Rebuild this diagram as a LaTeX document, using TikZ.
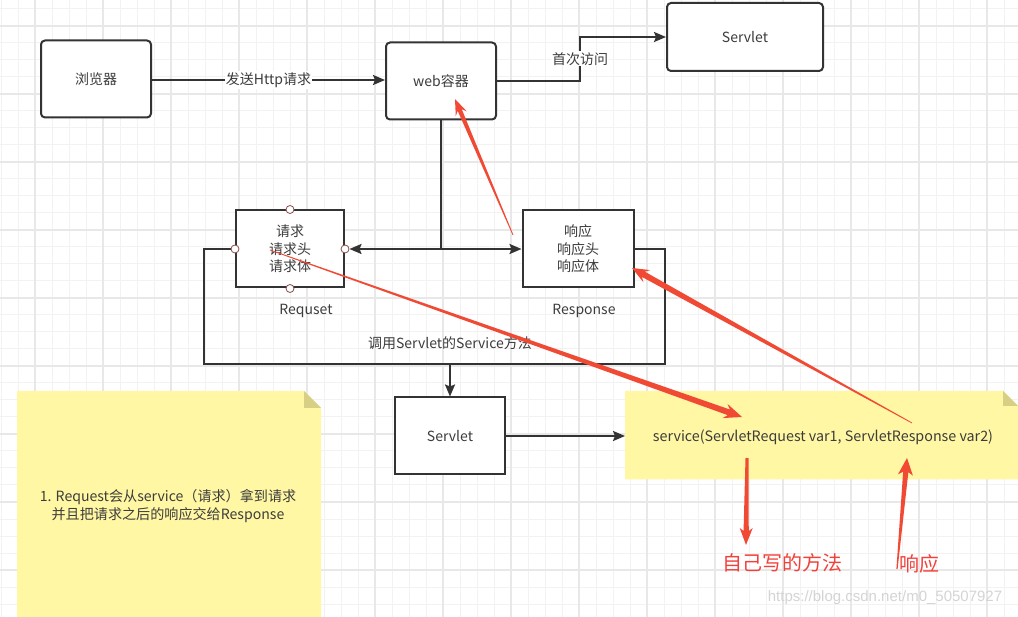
\documentclass[tikz,border=0pt]{standalone}
\usepackage{fontspec}
\setmainfont{Noto Sans CJK SC}
\newfontfamily\wmfont{Liberation Sans}
\usetikzlibrary{calc,arrows.meta}
\definecolor{boxline}{HTML}{333333}
\definecolor{txt}{HTML}{3C3C3C}
\definecolor{gridminor}{HTML}{F2F2F2}
\definecolor{gridmajor}{HTML}{E8E8E8}
\definecolor{notey}{HTML}{FFF7A3}
\definecolor{notefold}{HTML}{D6CF84}
\definecolor{redc}{HTML}{F04A35}
\definecolor{redtxt}{HTML}{F2403A}
\definecolor{wm}{HTML}{D4D4D4}
\definecolor{pinr}{HTML}{8A4A4A}
% tail, tip, tail half width, shaft half width, junction dist, wing dist, head half width
\newcommand\redarrow[7]{%
  \path ($(#2)!#5!(#1)$) coordinate (rh) ($(#2)!#6!(#1)$) coordinate (rw);
  \fill[redc] ($(#1)!#3!90:(#2)$) -- ($(rh)!#4!90:(#2)$) -- ($(rw)!#7!90:(#2)$) -- (#2)
    -- ($(rw)!#7!-90:(#2)$) -- ($(rh)!#4!-90:(#2)$) -- ($(#1)!#3!-90:(#2)$) -- cycle;
}
\begin{document}
\begin{tikzpicture}[x=1pt,y=-1pt,
  font=\fontsize{14}{17.5}\selectfont, text=txt,
  rbox/.style={draw=boxline, line width=2pt, rounded corners=4pt, fill=white, inner sep=0pt},
  sbox/.style={draw=boxline, line width=2pt, fill=white, inner sep=0pt},
  conn/.style={draw=boxline, line width=2pt, -{Stealth[length=12pt,width=10pt,inset=2pt]}},
  plain/.style={draw=boxline, line width=2pt},
  lbl/.style={fill=white, inner sep=1pt},
  pin/.style={circle, draw=pinr, fill=white, line width=0.8pt, minimum size=8pt, inner sep=0pt},
  redlbl/.style={text=redtxt, font=\fontsize{20}{20}\selectfont},
]
\useasboundingbox (0,0) rectangle (1018,617);
\fill[white] (0,0) rectangle (1018,617);
% grid
\foreach \i in {0,...,59} \draw[gridminor, line width=1pt] ({1+17*\i},0) -- ({1+17*\i},617);
\foreach \j in {0,...,36} \draw[gridminor, line width=1pt] (0,{9+17*\j}) -- (1018,{9+17*\j});
\foreach \i in {0,...,14} \draw[gridmajor, line width=1.3pt] ({35+68*\i},0) -- ({35+68*\i},617);
\foreach \j in {0,...,8} \draw[gridmajor, line width=1.3pt] (0,{26+68*\j}) -- (1018,{26+68*\j});

% notes
\fill[notey] (17,391) -- (304,391) -- (321,408) -- (321,617) -- (17,617) -- cycle;
\fill[notefold] (304,391) -- (304,408) -- (321,408) -- cycle;
\fill[notey] (625,391) -- (1003,391) -- (1018,406) -- (1018,479.5) -- (625,479.5) -- cycle;
\fill[notefold] (1003,391) -- (1003,406) -- (1018,406) -- cycle;
\node[align=center, font=\fontsize{14.1}{18}\selectfont] (notetxt) at (168,506)
  {1. Request会从service（请求）拿到请求\\并且把请求之后的响应交给Response};
\node[font=\fontsize{14.3}{17}\selectfont] (svc) at (823,437) {service(ServletRequest var1, ServletResponse var2)};
\coordinate (noteRw) at (625,436);

% boxes
\node[rbox, minimum width=110pt, minimum height=77pt] (browser) at (96,79) {浏览器};
\node[rbox, minimum width=110pt, minimum height=77pt] (web) at (441,81) {web容器};
\node[rbox, minimum width=156pt, minimum height=68pt] (servtop) at (745,37) {Servlet};
\node[sbox, minimum width=108pt, minimum height=77pt, align=center] (req) at (290,249) {请求\\请求头\\请求体};
\node[sbox, minimum width=111pt, minimum height=77pt, align=center] (resp) at (578,249) {响应\\响应头\\响应体};
\node[sbox, minimum width=110pt, minimum height=77pt] (servlow) at (450,436) {Servlet};

\node (reqlbl) at (306,311) {Requset};
\node (resplbl) at (584,311) {Response};
\node (calllbl) at (450,343) {调用Servlet的Service方法};

% connectors
\draw[conn] (browser.east |- 0,80) -- node[lbl]{发送Http请求} (web.west |- 0,80);
\coordinate (wsA) at (580,81);
\draw[conn] (web.east) -- (wsA) |- node[lbl, pos=0.25]{首次访问} (servtop.west);
\coordinate (jn) at (441,249);
\draw[plain] (web.south) -- (jn);
\draw[conn, shorten >=4.5pt] (jn) -- (req.east);
\draw[conn] (jn) -- (resp.west);
\coordinate (bigBL) at (204,364);
\coordinate (bigBR) at (665,364);
\draw[plain] (req.west) -| (bigBL) -- (bigBR) |- (resp.east);
\coordinate (bigmid) at (450,364);
\draw[conn] (bigmid) -- (servlow.north);
\draw[conn] (servlow.east) -- (noteRw);

% pins
\node[pin] (pinN) at (req.north) {};
\node[pin] (pinS) at (req.south) {};
\node[pin] (pinW) at (req.west) {};
\node[pin] (pinE) at (req.east) {};

% red arrows
\coordinate (r1a) at (513,235); \coordinate (r1b) at (455,99);
\redarrow{r1a}{r1b}{0.4pt}{2.2pt}{12pt}{16pt}{6pt}
\coordinate (r2a) at (270,250); \coordinate (r2b) at (742,417);
\redarrow{r2a}{r2b}{0.4pt}{3pt}{14pt}{18pt}{7.5pt}
\coordinate (r3a) at (912,423); \coordinate (r3b) at (632,268);
\redarrow{r3a}{r3b}{0.4pt}{3pt}{13pt}{17pt}{7pt}
\coordinate (r4a) at (747,458); \coordinate (r4b) at (746,545);
\redarrow{r4a}{r4b}{1.5pt}{2.6pt}{14pt}{17pt}{6.5pt}
\coordinate (r5a) at (897,569); \coordinate (r5b) at (907,458);
\redarrow{r5a}{r5b}{0.6pt}{2.6pt}{14pt}{17pt}{7.5pt}

\node[redlbl] (selfm) at (782,563) {自己写的方法};
\node[redlbl] (xy) at (919,564) {响应};
\node[text=wm, font=\wmfont\fontsize{15}{15}\selectfont] (wmark) at (885,598) {https://blog.csdn.net/m0\_50507927};
\end{tikzpicture}
\end{document}
